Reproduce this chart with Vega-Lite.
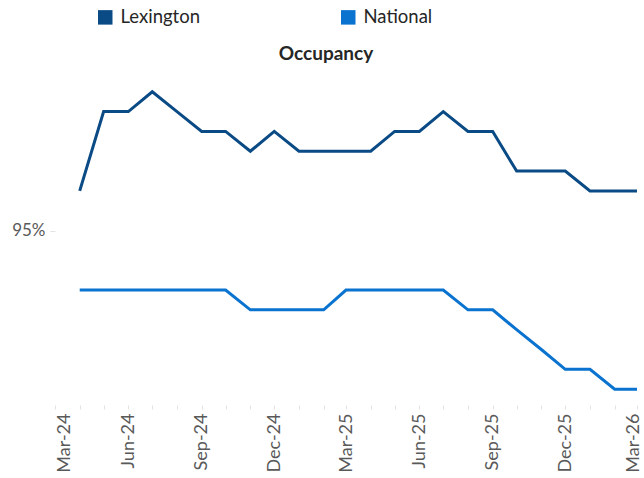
{
  "$schema": "https://vega.github.io/schema/vega-lite/v6.json",
  "width": 582,
  "height": 337,
  "autosize": {"type": "none"},
  "padding": {"left": 55, "top": 68, "right": 7, "bottom": 73},
  "config": {
    "font": "Lato",
    "view": {"stroke": null},
    "background": "white"
  },
  "title": {
    "text": "Occupancy",
    "fontSize": 19,
    "fontWeight": "bold",
    "color": "#262626",
    "font": "Lato",
    "offset": -56,
    "dx": -20
  },
  "data": {
    "values": [
      {"date": "2024-04-01", "series": "Lexington", "value": 95.2},
      {"date": "2024-05-01", "series": "Lexington", "value": 95.6},
      {"date": "2024-06-01", "series": "Lexington", "value": 95.6},
      {"date": "2024-07-01", "series": "Lexington", "value": 95.7},
      {"date": "2024-08-01", "series": "Lexington", "value": 95.6},
      {"date": "2024-09-01", "series": "Lexington", "value": 95.5},
      {"date": "2024-10-01", "series": "Lexington", "value": 95.5},
      {"date": "2024-11-01", "series": "Lexington", "value": 95.4},
      {"date": "2024-12-01", "series": "Lexington", "value": 95.5},
      {"date": "2025-01-01", "series": "Lexington", "value": 95.4},
      {"date": "2025-02-01", "series": "Lexington", "value": 95.4},
      {"date": "2025-03-01", "series": "Lexington", "value": 95.4},
      {"date": "2025-04-01", "series": "Lexington", "value": 95.4},
      {"date": "2025-05-01", "series": "Lexington", "value": 95.5},
      {"date": "2025-06-01", "series": "Lexington", "value": 95.5},
      {"date": "2025-07-01", "series": "Lexington", "value": 95.6},
      {"date": "2025-08-01", "series": "Lexington", "value": 95.5},
      {"date": "2025-09-01", "series": "Lexington", "value": 95.5},
      {"date": "2025-10-01", "series": "Lexington", "value": 95.3},
      {"date": "2025-11-01", "series": "Lexington", "value": 95.3},
      {"date": "2025-12-01", "series": "Lexington", "value": 95.3},
      {"date": "2026-01-01", "series": "Lexington", "value": 95.2},
      {"date": "2026-02-01", "series": "Lexington", "value": 95.2},
      {"date": "2026-03-01", "series": "Lexington", "value": 95.2},
      {"date": "2024-04-01", "series": "National", "value": 94.7},
      {"date": "2024-05-01", "series": "National", "value": 94.7},
      {"date": "2024-06-01", "series": "National", "value": 94.7},
      {"date": "2024-07-01", "series": "National", "value": 94.7},
      {"date": "2024-08-01", "series": "National", "value": 94.7},
      {"date": "2024-09-01", "series": "National", "value": 94.7},
      {"date": "2024-10-01", "series": "National", "value": 94.7},
      {"date": "2024-11-01", "series": "National", "value": 94.6},
      {"date": "2024-12-01", "series": "National", "value": 94.6},
      {"date": "2025-01-01", "series": "National", "value": 94.6},
      {"date": "2025-02-01", "series": "National", "value": 94.6},
      {"date": "2025-03-01", "series": "National", "value": 94.7},
      {"date": "2025-04-01", "series": "National", "value": 94.7},
      {"date": "2025-05-01", "series": "National", "value": 94.7},
      {"date": "2025-06-01", "series": "National", "value": 94.7},
      {"date": "2025-07-01", "series": "National", "value": 94.7},
      {"date": "2025-08-01", "series": "National", "value": 94.6},
      {"date": "2025-09-01", "series": "National", "value": 94.6},
      {"date": "2025-10-01", "series": "National", "value": 94.5},
      {"date": "2025-11-01", "series": "National", "value": 94.4},
      {"date": "2025-12-01", "series": "National", "value": 94.3},
      {"date": "2026-01-01", "series": "National", "value": 94.3},
      {"date": "2026-02-01", "series": "National", "value": 94.2},
      {"date": "2026-03-01", "series": "National", "value": 94.2}
    ]
  },
  "mark": {"type": "line", "strokeWidth": 3, "strokeJoin": "miter"},
  "encoding": {
    "x": {
      "field": "date",
      "type": "temporal",
      "title": null,
      "scale": {"type": "utc", "domain": [1709251200000, 1772323200000], "nice": false},
      "axis": {
        "tickCount": {"interval": "month", "step": 1},
        "labelExpr": "utcmonth(datum.value) % 3 == 2 ? utcFormat(datum.value, '%b-%y') : ''",
        "labelAngle": -90,
        "labelAlign": "right",
        "labelBaseline": "middle",
        "labelFontSize": 18,
        "labelColor": "#595959",
        "labelPadding": 4,
        "labelOffset": {
          "condition": [
            {"test": "datum.value < 1710000000000", "value": 9},
            {"test": "datum.value > 1772000000000", "value": -4}
          ],
          "value": 0
        },
        "labelOverlap": false,
        "labelFlush": false,
        "grid": false,
        "domain": false,
        "ticks": true,
        "tickColor": "#e3e3e3",
        "tickSize": 4
      }
    },
    "y": {
      "field": "value",
      "type": "quantitative",
      "title": null,
      "scale": {"domain": [94.12, 95.82], "zero": false, "nice": false},
      "axis": {
        "values": [95],
        "labelExpr": "datum.value + '%'",
        "labelFontSize": 17,
        "labelColor": "#595959",
        "labelPadding": 5,
        "grid": false,
        "domain": false,
        "tickColor": "#e3e3e3",
        "tickSize": 5
      }
    },
    "color": {
      "field": "series",
      "type": "nominal",
      "title": null,
      "scale": {"domain": ["Lexington", "National"], "range": ["#0a4a85", "#0a73cf"]},
      "legend": {
        "orient": "none",
        "legendX": 41,
        "legendY": -60,
        "direction": "horizontal",
        "columns": 2,
        "symbolType": "square",
        "symbolSize": 210,
        "symbolStrokeWidth": 0,
        "symbolOpacity": 1,
        "labelFontSize": 18.5,
        "labelColor": "#262626",
        "labelOffset": 6,
        "columnPadding": 139,
        "encode": {
          "symbols": {
            "update": {
              "fill": {"scale": "color", "field": "value"},
              "fillOpacity": {"value": 1}
            }
          }
        }
      }
    }
  }
}
